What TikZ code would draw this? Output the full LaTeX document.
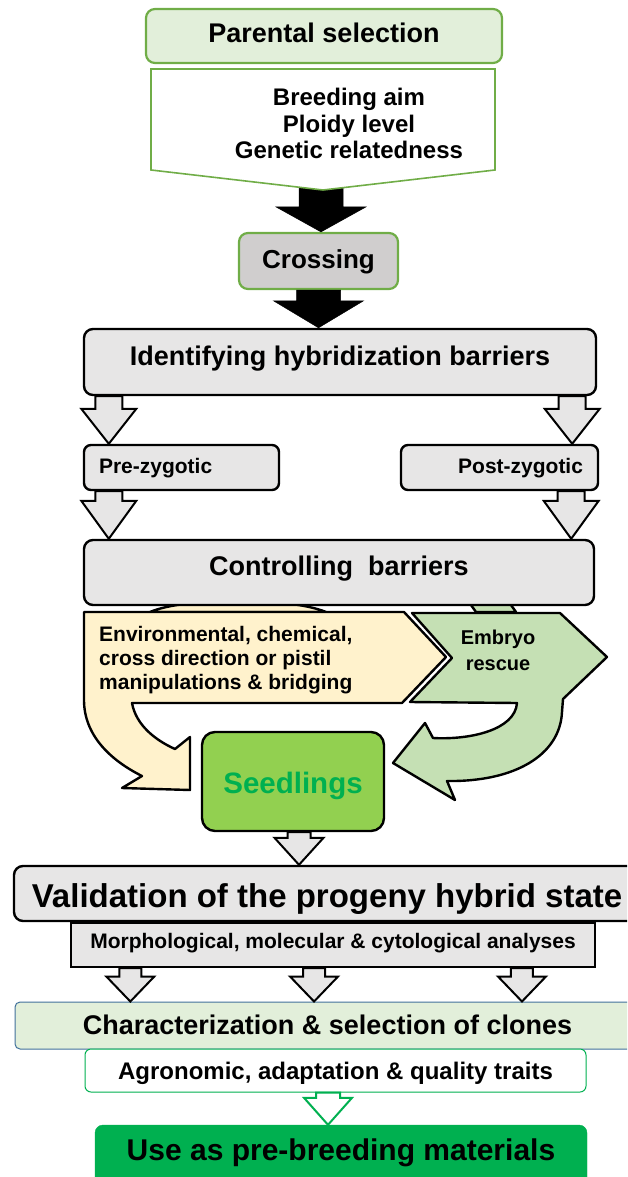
\documentclass[tikz,border=0pt]{standalone}
\usepackage{fontspec}
\setmainfont{Liberation Sans}
\usetikzlibrary{calc,positioning}

\definecolor{paleGreen}{HTML}{E2EFDA}
\definecolor{leafGreen}{HTML}{70AD47}
\definecolor{crossGray}{HTML}{D0CECE}
\definecolor{boxGray}{HTML}{E7E6E6}
\definecolor{paleYellow}{HTML}{FFF2CC}
\definecolor{embryoGreen}{HTML}{C5E0B4}
\definecolor{seedFill}{HTML}{92D050}
\definecolor{brightGreen}{HTML}{00B050}
\definecolor{slateBlue}{HTML}{41719C}

% block arrow: style, start, tip, shaft half width, head half width, head length
\newcommand{\fatarrow}[6]{%
  \draw[#1] ($(#2)+(-#4,0)$) -- ($(#3)+(-#4,-#6)$) -- ($(#3)+(-#5,-#6)$) -- (#3)
    -- ($(#3)+(#5,-#6)$) -- ($(#3)+(#4,-#6)$) -- ($(#2)+(#4,0)$) -- cycle;}

\tikzset{
  sz/.style={font=\fontsize{#1}{#1}\selectfont\bfseries},
  stage/.style={draw=black, line width=2.4pt, fill=boxGray, rounded corners=9pt, inner xsep=0pt, inner ysep=0pt},
  parentbox/.style={draw=leafGreen, line width=2.2pt, fill=paleGreen, rounded corners=9pt, inner xsep=0pt, inner ysep=0pt},
  solidarrow/.style={fill=black, draw=black, line width=0.5pt},
  hollowarrow/.style={fill=boxGray, draw=black, line width=2pt},
  shape edge/.style={draw=black, line width=2.4pt, line join=round}
}

\begin{document}
\begin{tikzpicture}[x=1pt,y=-1pt]
\clip (0,0) rectangle (627,1177);

% parental selection and criteria
\node[parentbox, sz=27, minimum width=356pt, text height=34pt, text depth=20pt] (parent) at (324,36) {Parental selection};
\node[parentbox, fill=crossGray, sz=26, minimum width=159pt, text height=35pt, text depth=21pt] (crossing) at (318.5,261) {Crossing};
\coordinate (calltop) at (321,180);
\coordinate (calltip) at (calltop |- crossing.north);
\fatarrow{solidarrow}{calltop}{calltip}{22}{45}{25}
\draw[draw=leafGreen, fill=white, line width=1.6pt] (151,69) -- (495,69) -- (495,170) -- (323,190) -- (151,170) -- cycle;
\node[font=\fontsize{24}{26.5}\selectfont\bfseries, align=center, inner sep=0pt, anchor=north] (criteria) at (349,88) {Breeding aim\\Ploidy level\\Genetic relatedness};

% barriers
\node[stage, sz=27, minimum width=512pt, text height=36pt, text depth=30pt] (ident) at (340,362) {Identifying hybridization barriers};
\coordinate (x2) at (crossing.south |- ident.north);
\fatarrow{solidarrow}{crossing.south}{x2}{22}{45}{27}

\node[stage, sz=21, rounded corners=7pt, inner xsep=15pt, text width=165pt, align=left, text height=28pt, text depth=17pt] (pre) at (181.5,467.5) {Pre-zygotic};
\node[stage, sz=21, rounded corners=7pt, inner xsep=15pt, text width=167pt, align=right, text height=28pt, text depth=17pt] (post) at (499.5,467.5) {Post-zygotic};

% bits of the curved arrows behind the box
\draw[shape edge, fill=paleYellow] (150,612) .. controls (185,597) and (290,597) .. (326,612) -- cycle;
\draw[shape edge, fill=embryoGreen] (476,612) -- (466,598) -- (506,598) -- (516,612) -- cycle;

\node[stage, sz=27, minimum width=510pt, text height=35pt, text depth=30pt] (ctrl) at (339,572.5) {Controlling\ \ barriers};

\coordinate (a1) at ($(ident.south west)+(26,0)$);
\coordinate (a1e) at (a1 |- pre.north);
\fatarrow{hollowarrow}{a1}{a1e}{13.5}{27.5}{35}
\coordinate (a2) at ($(ident.south east)+(-25,0)$);
\coordinate (a2e) at (a2 |- post.north);
\fatarrow{hollowarrow}{a2}{a2e}{13.5}{27.5}{35}
\coordinate (a3) at ($(pre.south west)+(26,0)$);
\coordinate (a3e) at (a3 |- ctrl.north);
\fatarrow{hollowarrow}{a3}{a3e}{13.5}{27.5}{38}
\coordinate (a4) at ($(post.south east)+(-28,0)$);
\coordinate (a4e) at (a4 |- ctrl.north);
\fatarrow{hollowarrow}{a4}{a4e}{13.5}{27.5}{38}

% methods
\draw[shape edge, fill=paleYellow] (84,612) -- (404,612) -- (446,657) -- (402,703) -- (132,703)
  .. controls (136,725) and (155,740) .. (175,749) -- (190,737) -- (190,790) -- (122,788) -- (142,776)
  .. controls (110,760) and (84,735) .. (84,700) -- cycle;
\node[font=\fontsize{21}{24}\selectfont\bfseries, align=left, inner sep=0pt, anchor=north west] (methods) at (99,626) {Environmental, chemical,\\cross direction or pistil\\manipulations \& bridging};
\draw[shape edge, fill=embryoGreen] (412,613) -- (560,613) -- (607,657) -- (563,699) -- (562,712)
  .. controls (560,755) and (515,782) .. (447,781) -- (455,800) -- (393,763) -- (425,723) -- (433,738)
  .. controls (470,740) and (515,730) .. (517,703) -- (410,702) -- (452,658) -- cycle;
\node[font=\fontsize{20}{26}\selectfont\bfseries, align=center, inner sep=0pt, anchor=north] (embryo) at (498,630) {Embryo\\rescue};

\node[stage, fill=seedFill, text=brightGreen, rounded corners=13pt, sz=29.5, minimum width=182pt, text height=61pt, text depth=38pt] (seed) at (293,781.5) {Seedlings};

% validation
\node[stage, sz=33, minimum width=626pt, text height=41pt, text depth=14pt] (valid) at (327,893.5) {Validation of the progeny hybrid state};
\coordinate (a5) at ($(seed.south)+(6,0)$);
\coordinate (a5e) at (a5 |- valid.north);
\fatarrow{hollowarrow}{a5}{a5e}{11.5}{24.5}{27}

\node[stage, rounded corners=0pt, sz=21, minimum width=524pt, text height=25pt, text depth=19pt] (morph) at (333,945) {Morphological, molecular \& cytological analyses};

% selection
\node[draw=slateBlue, fill=paleGreen, line width=1pt, rounded corners=5pt, inner xsep=0pt, inner ysep=0pt, sz=27, minimum width=625pt, text height=32pt, text depth=15pt] (clones) at (327.5,1025.5) {Characterization \& selection of clones};
\foreach \p/\n in {0.115/b1, 0.464/b2, 0.859/b3} {
  \coordinate (\n) at ($(morph.south west)!\p!(morph.south east)$);
  \coordinate (\n e) at (\n |- clones.north);
  \fatarrow{hollowarrow}{\n}{\n e}{11}{24}{25}
}
\node[draw=brightGreen, fill=white, line width=1pt, rounded corners=6pt, inner xsep=0pt, inner ysep=0pt, sz=24, minimum width=501pt, text height=30pt, text depth=13pt] (traits) at (335.5,1070.5) {Agronomic, adaptation \& quality traits};
\node[draw=brightGreen, fill=brightGreen, rounded corners=8pt, inner xsep=0pt, inner ysep=0pt, sz=30, minimum width=492pt, text height=35pt, text depth=35pt] (use) at (341,1160) {Use as pre-breeding materials};
\coordinate (a6) at ($(traits.south)+(-7.5,0)$);
\coordinate (a6e) at (a6 |- use.north);
\fatarrow{draw=brightGreen, fill=white, line width=2pt}{a6}{a6e}{12}{24}{27}

\end{tikzpicture}
\end{document}
